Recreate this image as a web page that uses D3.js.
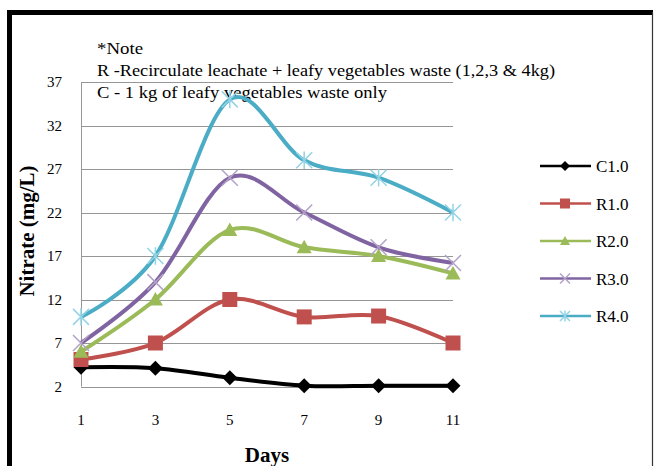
<!DOCTYPE html>
<html>
<head>
<meta charset="utf-8">
<script src="https://cdn.jsdelivr.net/npm/d3@7"></script>
<style>
  body { margin: 0; background: #fff; }
  text { font-family: "Liberation Serif", "Times New Roman", serif; }
</style>
</head>
<body>
<div id="chart"></div>
<script>
const width = 655;
const height = 466;

// chart values
const days = [1, 3, 5, 7, 9, 11];
const yTicks = [2, 7, 12, 17, 22, 27, 32, 37];
const c1 = [4.2, 4.1, 3.0, 2.1, 2.1, 2.1];
const r1 = [5.1, 7.0, 12.0, 10.0, 10.1, 7.0];
const r2 = [6.0, 12.0, 20.0, 18.0, 17.0, 15.0];
const r3 = [7.0, 14.0, 26.0, 22.0, 18.0, 16.2];
const r4 = [10.0, 17.0, 35.0, 28.0, 26.0, 22.0];
const seriesNames = ["C1.0", "R1.0", "R2.0", "R3.0", "R4.0"];
const noteLines = [
  "*Note",
  "R -Recirculate leachate + leafy vegetables waste (1,2,3 & 4kg)",
  "C - 1 kg of leafy vegetables waste  only"
];

const series = [
  {name: seriesNames[0], values: c1, color: "#000000", mark: "diamond"},
  {name: seriesNames[1], values: r1, color: "#C0504D", mark: "square"},
  {name: seriesNames[2], values: r2, color: "#9BBB59", mark: "triangle"},
  {name: seriesNames[3], values: r3, color: "#8064A2", mark: "x", markColor: "#b3a2c7"},
  {name: seriesNames[4], values: r4, color: "#4BACC6", mark: "star", markColor: "#93d3e6"}
];

let x = d3.scaleLinear().domain([1, 11]).range([81, 453]);
let y = d3.scaleLinear().domain([2, 37]).range([386.5, 82]);

const svg = d3.select("#chart").append("svg")
  .attr("width", width)
  .attr("height", height);

// outer frame
svg.append("rect").attr("x", 7).attr("y", 10).attr("width", 646).attr("height", 5).attr("fill", "#000");
svg.append("rect").attr("x", 7).attr("y", 10).attr("width", 5).attr("height", height).attr("fill", "#000");
svg.append("line").attr("x1", 652.5).attr("x2", 652.5).attr("y1", 12).attr("y2", height)
  .attr("stroke", "#333").attr("stroke-width", 1.2);

// gridlines
svg.append("g")
  .selectAll("line")
  .data(yTicks).enter()
  .append("line")
  .attr("x1", x(1)).attr("x2", x(11))
  .attr("y1", d => Math.round(y(d)) + 0.5).attr("y2", d => Math.round(y(d)) + 0.5)
  .attr("stroke", "#969696").attr("stroke-width", 1);

svg.append("line")
  .attr("x1", x(1) + 0.5).attr("x2", x(1) + 0.5)
  .attr("y1", y(37)).attr("y2", y(2))
  .attr("stroke", "#969696");

// y tick labels
svg.append("g")
  .selectAll("text")
  .data(yTicks).enter()
  .append("text")
  .attr("x", 62)
  .attr("y", d => y(d) + 5)
  .attr("text-anchor", "end")
  .attr("font-size", 15)
  .text(d => d);

// x tick labels
svg.append("g")
  .selectAll("text")
  .data(days).enter()
  .append("text")
  .attr("x", d => x(d))
  .attr("y", 425)
  .attr("text-anchor", "middle")
  .attr("font-size", 15)
  .text(d => d);

// axis titles
svg.append("text")
  .attr("x", 267)
  .attr("y", 462)
  .attr("text-anchor", "middle")
  .attr("font-size", 21)
  .attr("font-weight", "bold")
  .text("Days");

svg.append("text")
  .attr("transform", "rotate(-90)")
  .attr("x", -231)
  .attr("y", 34)
  .attr("text-anchor", "middle")
  .attr("font-size", 21)
  .attr("font-weight", "bold")
  .text("Nitrate (mg/L)");

// note text
svg.append("g")
  .selectAll("text")
  .data(noteLines).enter()
  .append("text")
  .attr("x", 97)
  .attr("y", (d, i) => 54 + i * 22)
  .attr("font-size", 17)
  .attr("textLength", (d, i) => [46, 458, 290][i])
  .attr("lengthAdjust", "spacingAndGlyphs")
  .text(d => d);

// markers
function drawMark(g, s, size) {
  const mc = s.markColor || s.color;
  const h = size / 2;
  if (s.mark === "diamond") {
    g.append("path").attr("d", `M0,${-h}L${h},0L0,${h}L${-h},0Z`).attr("fill", s.color);
  } else if (s.mark === "square") {
    g.append("rect").attr("x", -h).attr("y", -h).attr("width", size).attr("height", size).attr("fill", s.color);
  } else if (s.mark === "triangle") {
    g.append("path").attr("d", `M0,${-h}L${h},${h * 0.8}L${-h},${h * 0.8}Z`).attr("fill", s.color);
  } else if (s.mark === "x") {
    g.append("path").attr("d", `M${-h},${-h}L${h},${h}M${-h},${h}L${h},${-h}`)
      .attr("stroke", mc).attr("stroke-width", 1.5).attr("fill", "none");
  } else if (s.mark === "star") {
    g.append("path").attr("d", `M${-h},${-h}L${h},${h}M${-h},${h}L${h},${-h}M0,${-h * 1.1}L0,${h * 1.1}`)
      .attr("stroke", mc).attr("stroke-width", 1.5).attr("fill", "none");
  }
}

const line = d3.line()
  .x((d, i) => x(days[i]))
  .y(d => y(d))
  .curve(d3.curveCardinal.tension(0));

series.forEach(s => {
  svg.append("path")
    .datum(s.values)
    .attr("d", line)
    .attr("fill", "none")
    .attr("stroke", s.color)
    .attr("stroke-width", 4)
    .attr("stroke-linejoin", "round");
  s.values.forEach((v, i) => {
    const g = svg.append("g").attr("transform", `translate(${x(days[i])},${y(v)})`);
    drawMark(g, s, s.mark === "x" || s.mark === "star" ? 16 : 15);
  });
});

// legend
const legend = svg.append("g")
  .selectAll("g")
  .data(series).enter()
  .append("g")
  .attr("transform", (d, i) => `translate(0,${166 + i * 37.5})`);

legend.append("line")
  .attr("x1", 540).attr("x2", 591)
  .attr("stroke", d => d.color)
  .attr("stroke-width", 2.5);

legend.each(function(d) {
  const g = d3.select(this).append("g").attr("transform", "translate(565,0)");
  drawMark(g, d, 10);
});

legend.append("text")
  .attr("x", 596)
  .attr("y", 6)
  .attr("font-size", 17)
  .text(d => d.name);
</script>
</body>
</html>
